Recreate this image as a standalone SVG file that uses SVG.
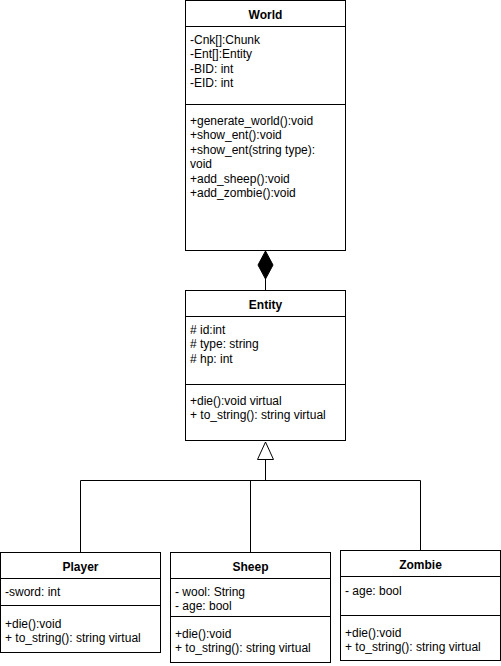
<svg xmlns="http://www.w3.org/2000/svg" width="501" height="666" viewBox="0 0 501 666">
<style>
.box{fill:#ffffff;stroke:#000000;stroke-width:1}
.sep{stroke:#000000;stroke-width:1;fill:none}
.t{font-family:"Liberation Sans",Arial,Helvetica,sans-serif;font-size:12px;fill:#000000}
.h{font-family:"Liberation Sans",Arial,Helvetica,sans-serif;font-size:12px;font-weight:bold;fill:#000000;text-anchor:middle}
.edge{stroke:#000000;stroke-width:1;fill:none}
</style>
<rect x="0" y="0" width="501" height="666" fill="#ffffff"/>
<g id="connectors">
<path class="edge" d="M265.5,279 L265.5,290.5"/>
<polygon points="265.5,251 273,265 265.5,279 258,265" fill="#000000" stroke="#000000" stroke-width="1"/>
<path class="edge" d="M265.5,459.5 L265.5,480.5 M80.5,480.5 L420.5,480.5 M80.5,480.5 L80.5,552.5 M250.5,480.5 L250.5,552.5 M420.5,480.5 L420.5,550.5"/>
<polygon points="265.5,442 273.5,459.5 257.5,459.5" fill="#ffffff" stroke="#000000" stroke-width="1"/>
</g>
<g id="World">
<rect class="box" x="185.5" y="0.5" width="160" height="250"/>
<path class="sep" d="M185.5,26.5 H345.5 M185.5,104.5 H345.5"/>
<text class="h" x="265.5" y="18.5">World</text>
<text class="t" x="190" y="44">-Cnk[]:Chunk</text>
<text class="t" x="190" y="58.4">-Ent[]:Entity</text>
<text class="t" x="190" y="72.8">-BID: int</text>
<text class="t" x="190" y="87.2">-EID: int</text>
<text class="t" x="190" y="125">+generate_world():void</text>
<text class="t" x="190" y="139.4">+show_ent():void</text>
<text class="t" x="190" y="153.8">+show_ent(string type):</text>
<text class="t" x="190" y="168.2">void</text>
<text class="t" x="190" y="182.6">+add_sheep():void</text>
<text class="t" x="190" y="197">+add_zombie():void</text>
</g>
<g id="Entity">
<rect class="box" x="185.5" y="290.5" width="160" height="150"/>
<path class="sep" d="M185.5,316.5 H345.5 M185.5,384.5 H345.5"/>
<text class="h" x="265.5" y="308.5">Entity</text>
<text class="t" x="190" y="334"># id:int</text>
<text class="t" x="190" y="348.4"># type: string</text>
<text class="t" x="190" y="362.8"># hp: int</text>
<text class="t" x="190" y="405">+die():void virtual</text>
<text class="t" x="190" y="419.4">+ to_string(): string virtual</text>
</g>
<g id="Player">
<rect class="box" x="0.5" y="552.5" width="160" height="100"/>
<path class="sep" d="M0.5,578.5 H160.5 M0.5,605.5 H160.5"/>
<text class="h" x="80.5" y="571">Player</text>
<text class="t" x="5" y="596">-sword: int</text>
<text class="t" x="5" y="627.5">+die():void</text>
<text class="t" x="5" y="641.9">+ to_string(): string virtual</text>
</g>
<g id="Sheep">
<rect class="box" x="170.5" y="552.5" width="160" height="110"/>
<path class="sep" d="M170.5,578.5 H330.5 M170.5,616.5 H330.5"/>
<text class="h" x="250.5" y="571">Sheep</text>
<text class="t" x="175" y="596">- wool: String</text>
<text class="t" x="175" y="610.4">- age: bool</text>
<text class="t" x="175" y="637.5">+die():void</text>
<text class="t" x="175" y="651.9">+ to_string(): string virtual</text>
</g>
<g id="Zombie">
<rect class="box" x="340.5" y="550.5" width="160" height="110"/>
<path class="sep" d="M340.5,576.5 H500.5 M340.5,615.5 H500.5"/>
<text class="h" x="420.5" y="569">Zombie</text>
<text class="t" x="345" y="594.5">- age: bool</text>
<text class="t" x="345" y="636.5">+die():void</text>
<text class="t" x="345" y="650.9">+ to_string(): string virtual</text>
</g>
</svg>
